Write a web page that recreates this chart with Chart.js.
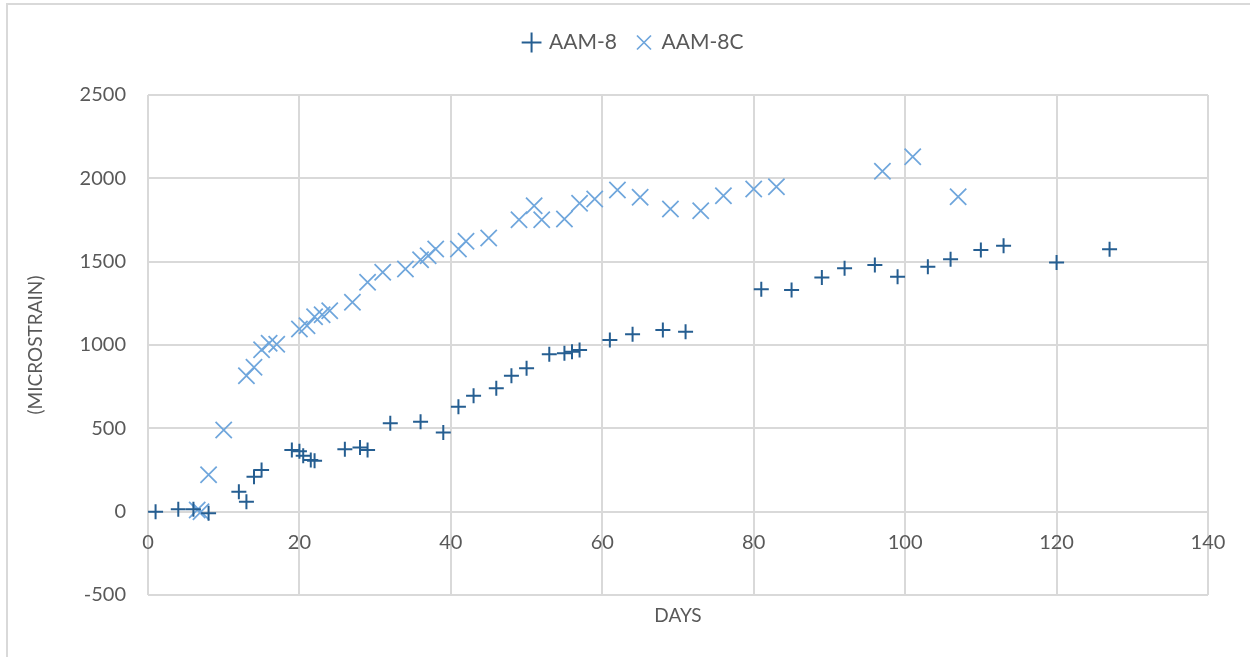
<!DOCTYPE html>
<html>
<head>
<meta charset="utf-8">
<script src="https://cdn.jsdelivr.net/npm/chart.js@4.4.1/dist/chart.umd.min.js"></script>
<style>
  body { margin: 0; background: #fff; }
  #wrap { position: relative; width: 1250px; height: 657px; overflow: hidden; }
  #frame { position: absolute; left: 6px; top: 3px; width: 1260px; height: 700px; border: 2px solid #d9d9d9; pointer-events: none; }
</style>
</head>
<body>
<div id="wrap">
  <canvas id="myChart" width="1250" height="657"></canvas>
  <div id="frame"></div>
</div>
<script>
// AAM-8 readings (days, microstrain)
const daysA = [1, 4, 6, 8, 12, 13, 14, 15, 19, 20, 20.5, 21.5, 22, 26, 28, 29, 32, 36, 39, 41, 43, 46, 48, 50, 53, 55, 56, 57, 61, 64, 68, 71, 81, 85, 89, 92, 96, 99, 103, 106, 110, 113, 120, 127];
const strainA = [0, 15, 15, -10, 120, 60, 210, 250, 370, 362, 335, 310, 305, 375, 385, 370, 530, 540, 475, 630, 695, 740, 815, 860, 945, 950, 960, 970, 1030, 1065, 1090, 1080, 1335, 1330, 1405, 1460, 1480, 1410, 1470, 1515, 1570, 1595, 1495, 1575];

// AAM-8C readings
const daysB = [6.5, 7, 8, 10, 13, 14, 15, 16, 17, 20, 21, 22, 23, 24, 27, 29, 31, 34, 36, 37, 38, 41, 42, 45, 49, 51, 52, 55, 57, 59, 62, 65, 69, 73, 76, 80, 83, 97, 101, 107];
const strainB = [10, 0, 222, 490, 815, 866, 972, 1010, 1005, 1096, 1116, 1170, 1182, 1206, 1256, 1376, 1436, 1456, 1512, 1536, 1576, 1576, 1622, 1642, 1752, 1836, 1752, 1756, 1850, 1876, 1930, 1886, 1816, 1806, 1896, 1936, 1950, 2042, 2130, 1890];

const xMin = 0, xMax = 140, xStep = 20;
const yMin = -500, yMax = 2500, yStep = 500;

const toPoints = (xs, ys) => xs.map((x, i) => ({ x: x, y: ys[i] }));

const FONT = 'Lato, "Open Sans", sans-serif';
const TEXT = '#595959';
const GRID = '#d9d9d9';

const ctx = document.getElementById('myChart').getContext('2d');
new Chart(ctx, {
    type: 'scatter',
    data: {
        datasets: [
            {
                label: 'AAM-8',
                data: toPoints(daysA, strainA),
                pointStyle: 'cross',
                pointRadius: 7.5,
                pointHoverRadius: 7.5,
                borderColor: '#255e91',
                backgroundColor: '#255e91',
                pointBorderWidth: 2
            },
            {
                label: 'AAM-8C',
                data: toPoints(daysB, strainB),
                pointStyle: 'crossRot',
                pointRadius: 11.5,
                pointHoverRadius: 11.5,
                borderColor: '#6fa6dc',
                backgroundColor: '#6fa6dc',
                pointBorderWidth: 1.75
            }
        ]
    },
    options: {
        responsive: false,
        animation: false,
        layout: {
            // left padding keeps the legend centred where the reference has it
            padding: { left: 60, right: 42, top: 12, bottom: 22 }
        },
        plugins: {
            tooltip: { enabled: false },
            legend: {
                position: 'top',
                labels: {
                    usePointStyle: true,
                    boxWidth: 14,
                    boxHeight: 14,
                    padding: 20,
                    color: TEXT,
                    font: { family: FONT, size: 21 }
                }
            }
        },
        scales: {
            x: {
                type: 'linear',
                position: { y: 0 },
                min: xMin,
                max: xMax,
                ticks: {
                    stepSize: xStep,
                    padding: 19,
                    color: TEXT,
                    font: { family: FONT, size: 20 },
                    maxRotation: 0
                },
                grid: { color: GRID, lineWidth: 2, drawTicks: false },
                border: { color: GRID, width: 2 }
            },
            xTitle: {
                type: 'linear',
                position: 'bottom',
                min: xMin,
                max: xMax,
                ticks: { display: false },
                grid: { display: false, drawTicks: false },
                border: { display: false },
                title: {
                    display: true,
                    text: 'DAYS',
                    color: TEXT,
                    font: { family: FONT, size: 19 },
                    padding: { top: 0, bottom: 8 }
                },
                afterFit: scale => { scale.height = 40; }
            },
            spacer: {
                type: 'linear',
                position: 'top',
                ticks: { display: false },
                grid: { display: false, drawTicks: false },
                border: { display: false },
                afterFit: scale => { scale.height = 32; }
            },
            y: {
                min: yMin,
                max: yMax,
                ticks: {
                    stepSize: yStep,
                    padding: 22,
                    color: TEXT,
                    font: { family: FONT, size: 20 },
                    callback: v => String(v)
                },
                grid: { color: GRID, lineWidth: 2, drawTicks: false },
                border: { display: false },
                title: {
                    display: true,
                    text: '(MICROSTRAIN)',
                    color: TEXT,
                    font: { family: FONT, size: 19 },
                    padding: { top: -36, bottom: 0 }
                },
                afterFit: scale => { scale.width = 88; }
            }
        }
    }
});
</script>
</body>
</html>
